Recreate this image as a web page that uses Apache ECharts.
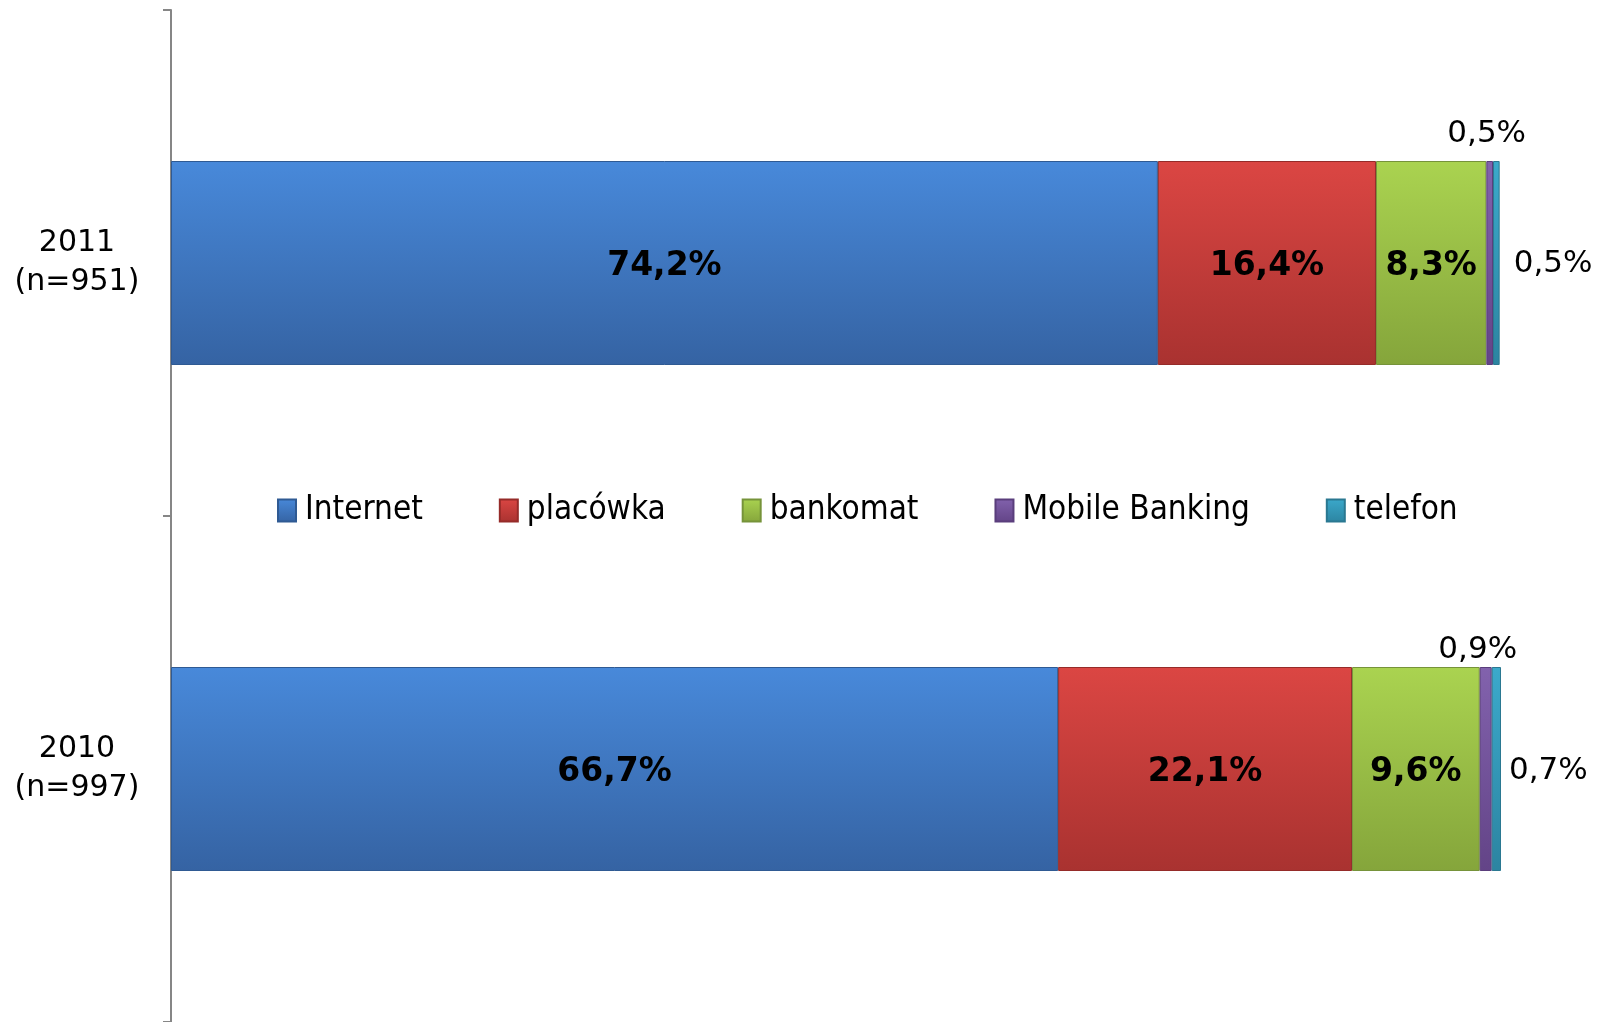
<!DOCTYPE html>
<html>
<head>
<meta charset="utf-8">
<script src="https://cdn.jsdelivr.net/npm/echarts@6/dist/echarts.min.js"></script>
<style>
html,body{margin:0;padding:0;background:#fff;}
#chart{width:1597px;height:1022px;}
</style>
</head>
<body>
<div id="chart"></div>
<script>
const categories = ['2010\n(n=997)', '2011\n(n=951)'];
const seriesNames = ['Internet', 'placówka', 'bankomat', 'Mobile Banking', 'telefon'];
const internet = [66.7, 74.2];
const placowka = [22.1, 16.4];
const bankomat = [9.6, 8.3];
const mobile = [0.9, 0.5];
const telefon = [0.7, 0.5];

const grad = (top, bottom) => ({
  type: 'linear', x: 0, y: 0, x2: 0, y2: 1,
  colorStops: [{offset: 0, color: top}, {offset: 1, color: bottom}]
});
const colors = [
  grad('#4889da', '#3563a3'),
  grad('#db4643', '#a93230'),
  grad('#aad350', '#85a53b'),
  grad('#8262ad', '#634487'),
  grad('#3ba9cb', '#2c84a1')
];
const borders = ['#2f5a93', '#952b29', '#76933a', '#5a3e7c', '#2a7891'];
const fmt = p => p.value.toFixed(1).replace('.', ',') + '%';
const FONT = 'DejaVu Sans';

const insideLabel = {
  show: true, position: 'inside', formatter: fmt, offset: [0, 3],
  fontFamily: FONT, fontWeight: 'bold', fontSize: 33, color: '#000'
};
const mobileOffsets = [[-8, 8], [-3, -2]];
const telefonOffsets = [[-3, 2], [3, 1]];

const mk = (name, data, idx, label) => ({
  name, type: 'bar', stack: 'total', barWidth: 204,
  itemStyle: {color: colors[idx], borderColor: borders[idx], borderWidth: 1},
  label, data
});

const option = {
  animation: false,
  backgroundColor: '#fff',
  grid: {left: 171, right: 96, top: 10, bottom: -2, containLabel: false},
  legend: {
    left: 277, top: 494, padding: 0, itemGap: 76, itemWidth: 18, itemHeight: 22,
    icon: 'rect',
    textStyle: {fontFamily: 'DejaVu Sans Condensed', fontSize: 33, color: '#000', padding: [0, 0, 0, 4]},
    data: seriesNames
  },
  xAxis: {type: 'value', min: 0, max: 100, show: false},
  yAxis: {
    type: 'category', data: categories,
    axisLine: {show: true, lineStyle: {color: '#868686', width: 2}},
    axisTick: {show: true, length: 8, lineStyle: {color: '#868686', width: 2}},
    axisLabel: {
      fontFamily: FONT, fontSize: 30, lineHeight: 39, color: '#000',
      align: 'center', margin: 94
    }
  },
  series: [
    mk('Internet', internet, 0, insideLabel),
    mk('placówka', placowka, 1, insideLabel),
    mk('bankomat', bankomat, 2, insideLabel),
    mk('Mobile Banking', mobile.map((v, i) => ({value: v, label: {offset: mobileOffsets[i]}})), 3,
      {show: true, position: 'top', distance: 10, formatter: fmt, fontFamily: FONT, fontSize: 31, color: '#000'}),
    mk('telefon', telefon.map((v, i) => ({value: v, label: {offset: telefonOffsets[i]}})), 4,
      {show: true, position: 'right', distance: 11, formatter: fmt, fontFamily: FONT, fontSize: 31, color: '#000'})
  ]
};

const chart = echarts.init(document.getElementById('chart'), null, {renderer: 'canvas'});
chart.setOption(option);
</script>
</body>
</html>
